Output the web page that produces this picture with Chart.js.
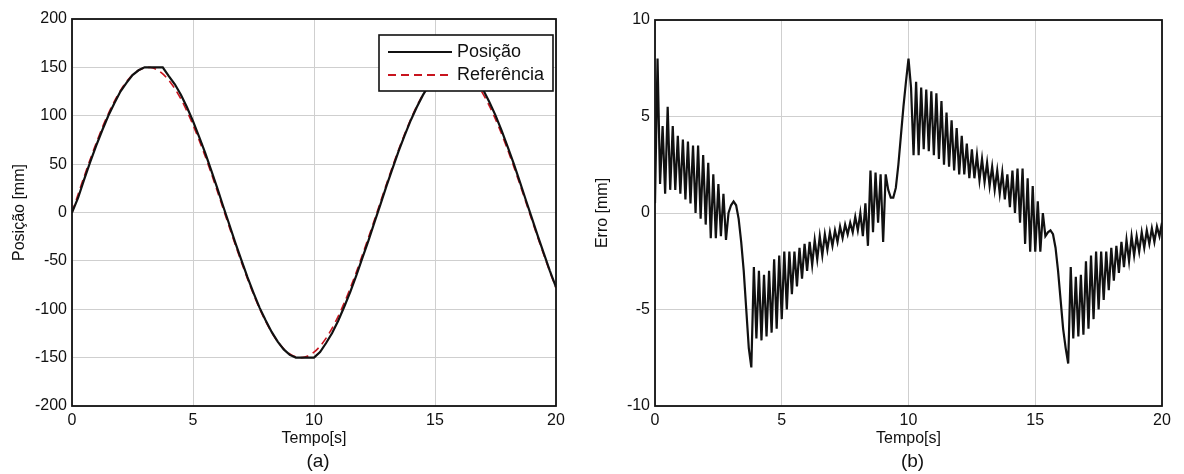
<!DOCTYPE html>
<html>
<head>
<meta charset="utf-8">
<script src="https://cdn.jsdelivr.net/npm/chart.js@4.4.1/dist/chart.umd.min.js"></script>
<style>
  html, body { margin: 0; padding: 0; background: #fff; }
  .painel { position: absolute; top: 0; width: 592px; height: 474px; }
  #painelA { left: 0; }
  #painelB { left: 592px; }
</style>
</head>
<body>
<div class="painel" id="painelA"><canvas id="posicaoChart"></canvas></div>
<div class="painel" id="painelB"><canvas id="erroChart"></canvas></div>
<script>
// amostragem das curvas de posição (s)
const passoPos = 0.25;
// referência senoidal [mm]
const referencia = [
    0, 18.7, 37.0, 54.8, 71.7, 87.6, 102.0, 114.9, 126.0, 135.2,
    142.2, 147.0, 149.6, 149.8, 147.7, 143.3, 136.7, 128.0, 117.3, 104.7,
    90.5, 75.0, 58.4, 40.9, 22.4, 3.7, -14.9, -33.4, -51.3, -68.4,
    -84.5, -99.3, -112.4, -123.9, -133.5, -141.0, -146.2, -149.3, -150.0, -148.3,
    -144.4, -138.2, -129.9, -119.5, -107.3, -93.4, -78.1, -61.5, -43.9, -26.0,
    -7.5, 11.2, 29.7, 47.8, 65.1, 81.4, 96.4, 110.0, 121.8, 131.7,
    139.6, 145.2, 148.8, 150.0, 148.8, 145.2, 139.6, 131.7, 121.8, 110.0,
    96.4, 81.4, 65.1, 47.8, 29.7, 11.2, -7.5, -26.0, -43.9, -61.5,
    -78.1
];
// posição medida [mm] (satura em +-150)
const posicao = [
    0, 15, 34, 52, 69, 85, 100, 113, 125, 134,
    142, 147, 150, 150, 150, 150, 141, 132.5, 121.8, 108.7,
    94.5, 78.5, 61.9, 43.9, 25.4, 6.2, -12.4, -31.4, -49.3, -66.9,
    -83, -98.3, -111.4, -123.4, -133.5, -141.5, -147.2, -150, -150, -150,
    -150, -144.2, -134.9, -124.5, -111.8, -97.4, -82.1, -65, -46.9, -29,
    -10, 8.7, 27.7, 45.8, 63.6, 79.9, 95.4, 109, 121.3, 131.7,
    140.1, 146.2, 150, 150, 150, 150, 144.6, 136.7, 126.3, 114,
    100.4, 84.9, 68.1, 50.8, 32.2, 13.2, -5.5, -24.5, -42.4, -60.5,
    -77.1
];

// amostragem do erro (s)
const passoErro = 0.1;
// erro de posição [mm]
const erro = [
    0.5, 8, 1.5, 4.5, 1.0, 5.5, 1.2, 4.5, 1.2, 4,
    1, 3.8, 0.7, 3.7, 0.5, 3.5, 0, 3.5, -0.3, 3,
    -0.6, 2.6, -1.3, 2, -1.3, 1.5, -1.2, 1, -1.4, 0,
    0.4, 0.6, 0.4, -0.3, -1.5, -3, -5, -7, -8, -2.8,
    -6.5, -3, -6.6, -3.2, -6.4, -3, -6.2, -2.4, -6, -2.2,
    -5.5, -2, -5, -2, -4.2, -2, -3.8, -1.8, -3.4, -1.6,
    -3, -1.5, -2.7, -1.4, -2.4, -1.2, -2.2, -1.1, -1.9, -1,
    -1.7, -0.9, -1.5, -0.7, -1.3, -0.6, -1.1, -0.5, -1, -0.2,
    -0.9, 0, -1.2, 0.5, -1.7, 2.2, -1, 2.1, -0.5, 2,
    -1.5, 2, 1.2, 0.8, 0.8, 1.3, 2.5, 4, 5.5, 6.8,
    8, 6.5, 3, 6.8, 3, 6.5, 3.3, 6.4, 3.2, 6.3,
    3, 6.2, 2.8, 5.8, 2.5, 5.2, 2.4, 4.8, 2.2, 4.4,
    2, 4, 2, 3.6, 1.8, 3.3, 1.8, 3, 1.7, 2.8,
    1.6, 2.6, 1.4, 2.4, 1.2, 2.2, 1, 2.1, 0.7, 2,
    0.3, 2.2, 0, 2.3, -0.5, 2.3, -1.6, 1.8, -2, 1.4,
    -2, 0.6, -2, 0, -1.2, -1, -0.9, -1.1, -1.8, -3,
    -4.5, -6, -7, -7.8, -2.8, -6.5, -3.3, -6.4, -3.2, -6.3,
    -2.5, -6, -2.2, -5.5, -2, -5, -2, -4.5, -2, -4,
    -1.8, -3.5, -1.7, -3.1, -1.5, -2.8, -1.4, -2.5, -1.2, -2.2,
    -1.2, -2, -1, -1.8, -0.9, -1.6, -0.8, -1.5, -0.7, -1.2,
    -0.5
];

const ticksTempo = [0, 5, 10, 15, 20];
const ticksPosicao = [-200, -150, -100, -50, 0, 50, 100, 150, 200];
const ticksErro = [-10, -5, 0, 5, 10];

const fonte = 'Liberation Sans, Arial, Helvetica, sans-serif';
const corTexto = '#111';
const corGrade = '#cfcfcf';

const pontos = (valores, passo) => valores.map((v, i) => ({ x: i * passo, y: v }));

// moldura em volta da área do gráfico (box on)
const moldura = {
    id: 'moldura',
    afterDraw(chart) {
        const a = chart.chartArea;
        const ctx = chart.ctx;
        ctx.save();
        ctx.strokeStyle = '#111';
        ctx.lineWidth = 1.8;
        ctx.strokeRect(a.left, a.top, a.right - a.left, a.bottom - a.top);
        ctx.restore();
    }
};

// legenda dentro do gráfico, canto superior direito
const legendaInterna = {
    id: 'legendaInterna',
    afterDraw(chart, args, opts) {
        if (!opts.show) return;
        const ctx = chart.ctx;
        const a = chart.chartArea;
        const x0 = a.right - 177, y0 = a.top + 16, w = 174, h = 56;
        ctx.save();
        ctx.fillStyle = '#fff';
        ctx.fillRect(x0, y0, w, h);
        ctx.strokeStyle = '#111';
        ctx.lineWidth = 1.6;
        ctx.strokeRect(x0, y0, w, h);
        ctx.font = '18px ' + fonte;
        ctx.textBaseline = 'middle';
        chart.data.datasets.forEach((ds, i) => {
            const y = y0 + 17 + i * 23;
            ctx.beginPath();
            ctx.strokeStyle = ds.borderColor;
            ctx.lineWidth = 1.8;
            ctx.setLineDash(ds.borderDash || []);
            ctx.moveTo(x0 + 9, y);
            ctx.lineTo(x0 + 73, y);
            ctx.stroke();
            ctx.setLineDash([]);
            ctx.fillStyle = corTexto;
            ctx.fillText(ds.label, x0 + 78, y);
        });
        ctx.restore();
    }
};

// legenda (a)/(b) abaixo de cada gráfico
const rotulo = {
    id: 'rotulo',
    afterDraw(chart, args, opts) {
        const ctx = chart.ctx;
        const a = chart.chartArea;
        ctx.save();
        ctx.font = '19px ' + fonte;
        ctx.fillStyle = corTexto;
        ctx.textAlign = 'center';
        ctx.textBaseline = 'middle';
        ctx.fillText(opts.text, (a.left + a.right) / 2 + 4, 462);
        ctx.restore();
    }
};

function eixoX() {
    return {
        type: 'linear',
        min: 0,
        max: 20,
        afterBuildTicks: scale => { scale.ticks = ticksTempo.map(v => ({ value: v })); },
        afterFit: scale => { scale.height = 42; },
        grid: { color: corGrade, lineWidth: 1, drawTicks: false },
        border: { display: false },
        ticks: { color: corTexto, font: { family: fonte, size: 16 }, padding: 5, maxRotation: 0 },
        title: { display: true, text: 'Tempo[s]', color: corTexto, font: { family: fonte, size: 16 }, padding: { top: 0, bottom: 0 } }
    };
}

function eixoY(min, max, ticks, titulo, largura, padTitulo) {
    return {
        type: 'linear',
        min: min,
        max: max,
        afterBuildTicks: scale => { scale.ticks = ticks.map(v => ({ value: v })); },
        afterFit: scale => { scale.width = largura; },
        grid: { color: corGrade, lineWidth: 1, drawTicks: false },
        border: { display: false },
        ticks: { color: corTexto, font: { family: fonte, size: 16 }, padding: 5 },
        title: { display: true, text: titulo, color: corTexto, font: { family: fonte, size: 16 }, padding: { top: padTitulo, bottom: 0 } }
    };
}

document.addEventListener('DOMContentLoaded', () => {

    const ctxA = document.getElementById('posicaoChart').getContext('2d');
    new Chart(ctxA, {
        type: 'line',
        data: {
            datasets: [{
                label: 'Posição',
                data: pontos(posicao, passoPos),
                borderColor: '#111111',
                borderWidth: 2.2,
                pointRadius: 0,
                tension: 0
            }, {
                label: 'Referência',
                data: pontos(referencia, passoPos),
                borderColor: '#c8141e',
                borderWidth: 1.6,
                borderDash: [8, 5],
                pointRadius: 0,
                tension: 0.3
            }]
        },
        options: {
            responsive: true,
            maintainAspectRatio: false,
            animation: false,
            layout: { padding: { left: 0, right: 36, top: 19, bottom: 26 } },
            scales: {
                x: eixoX(),
                y: eixoY(-200, 200, ticksPosicao, 'Posição [mm]', 72, 10)
            },
            plugins: {
                legend: { display: false },
                tooltip: { enabled: false },
                legendaInterna: { show: true },
                rotulo: { text: '(a)' }
            }
        },
        plugins: [moldura, legendaInterna, rotulo]
    });

    const ctxB = document.getElementById('erroChart').getContext('2d');
    new Chart(ctxB, {
        type: 'line',
        data: {
            datasets: [{
                label: 'Erro',
                data: pontos(erro, passoErro),
                borderColor: '#111111',
                borderWidth: 2.2,
                pointRadius: 0,
                tension: 0
            }]
        },
        options: {
            responsive: true,
            maintainAspectRatio: false,
            animation: false,
            layout: { padding: { left: 0, right: 22, top: 20, bottom: 26 } },
            scales: {
                x: eixoX(),
                y: eixoY(-10, 10, ticksErro, 'Erro [mm]', 63, 1)
            },
            plugins: {
                legend: { display: false },
                tooltip: { enabled: false },
                legendaInterna: { show: false },
                rotulo: { text: '(b)' }
            }
        },
        plugins: [moldura, legendaInterna, rotulo]
    });
});
</script>
</body>
</html>
